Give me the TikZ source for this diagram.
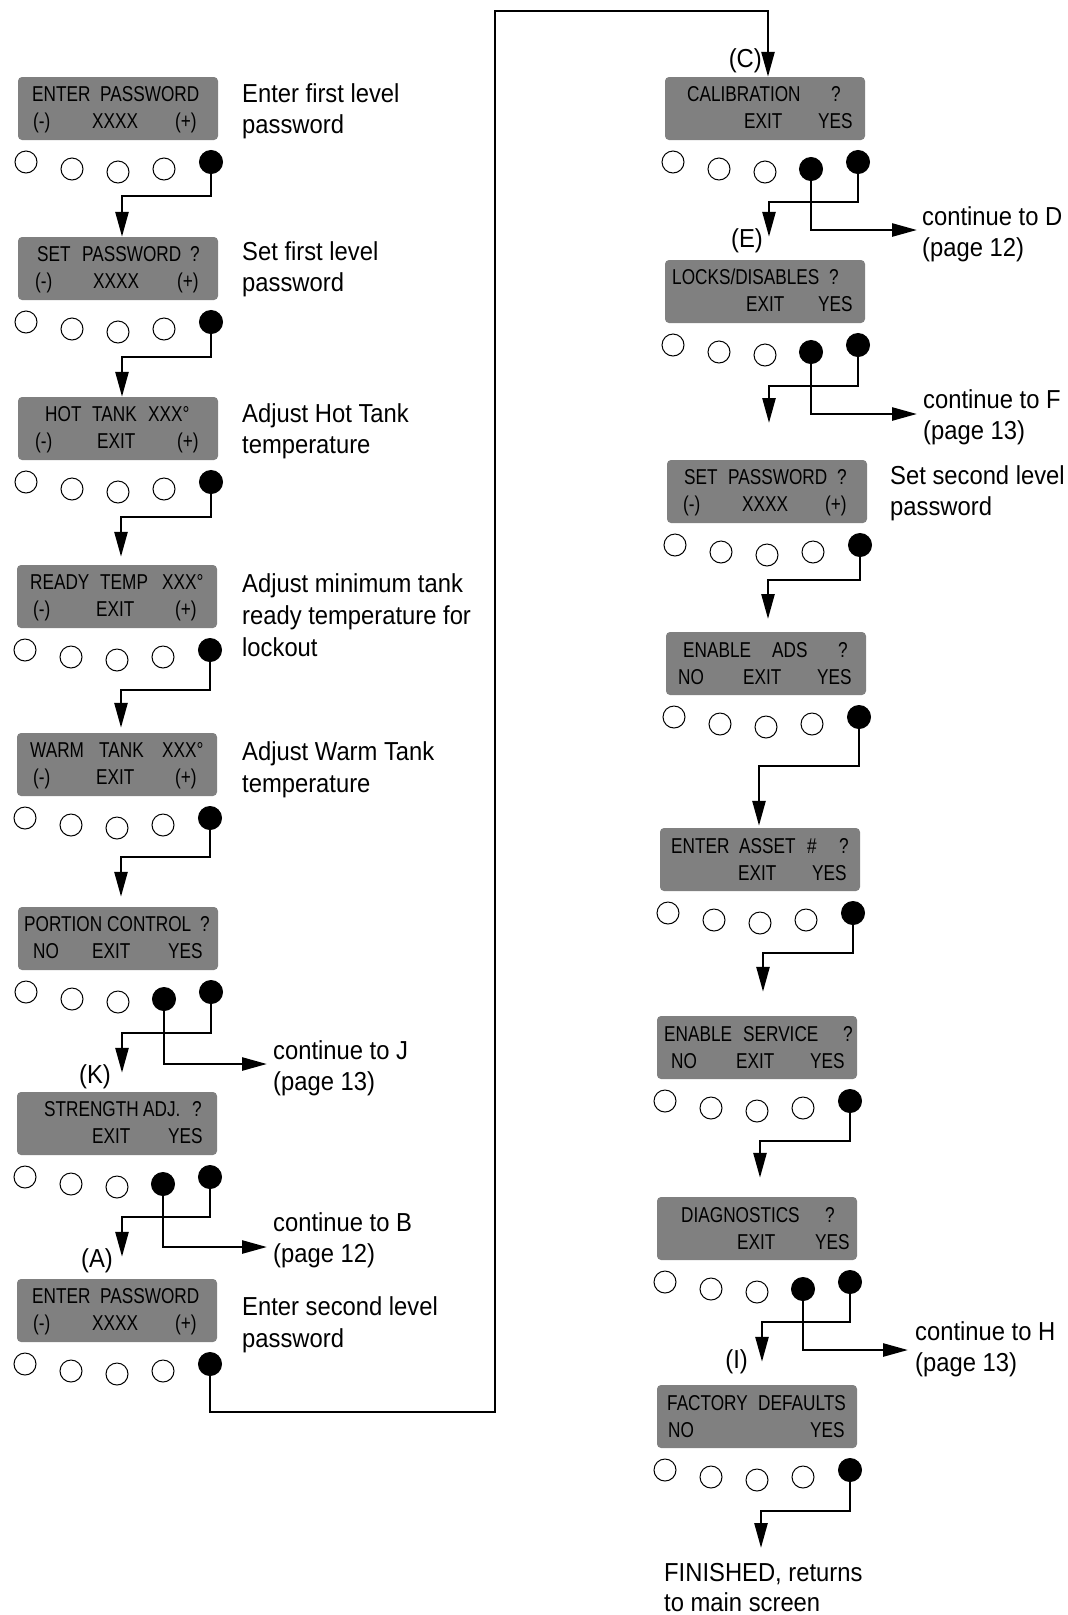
\documentclass[tikz,border=0pt]{standalone}
\usepackage{fontspec}
\setmainfont{Liberation Sans}
\newfontfamily\bfnt[FakeStretch=0.8]{Liberation Sans}
\newfontfamily\dfnt[FakeStretch=0.915]{Liberation Sans}
\usetikzlibrary{arrows.meta,calc}
\definecolor{boxgray}{RGB}{128,128,128}
\newcommand\screen[4]{%
  \node[scr] (#1) at (#2+100,#3+31.5) {};
  \node[btn] (#1-1) at (#2+8,#3+85) {};
  \node[btn] (#1-2) at (#2+54,#3+92) {};
  \node[btn] (#1-3) at (#2+100,#3+95) {};
  \node[#4] (#1-4) at (#2+146,#3+92) {};
  \node[btnf] (#1-5) at (#2+193,#3+85) {};}
\newcommand\bw[4]{\node[bt] (#1) at (#2,#3) {#4};}
\newcommand\dl[4]{\node[desc] (#1) at (#2,#3) {#4};}
\begin{document}
\begin{tikzpicture}[x=1pt,y=-1pt,
 scr/.style={rectangle, rounded corners=4pt, fill=boxgray, minimum width=200pt, minimum height=63pt, inner sep=0pt},
 btn/.style={circle, draw, line width=1pt, minimum size=22pt, inner sep=0pt, fill=white},
 btnf/.style={circle, draw, line width=1pt, fill=black, minimum size=23pt, inner sep=0pt},
 flow/.style={line width=2.6pt, -{Triangle[length=25pt,width=13pt]}},
 bt/.style={anchor=base west, inner sep=0pt, text=black, font=\bfnt\fontsize{21.5}{24}\selectfont},
 desc/.style={anchor=base west, inner sep=0pt, font=\dfnt\fontsize{26}{31}\selectfont},
 lab/.style={anchor=base east, inner sep=0pt, font=\dfnt\fontsize{26}{31}\selectfont},
]
\useasboundingbox (0,0) rectangle (1068,1615);
% ---------- screens ----------
\screen{L1}{18}{77}{btn}
\screen{L2}{18}{237}{btn}
\screen{L3}{18}{397}{btn}
\screen{L4}{17}{565}{btn}
\screen{L5}{17}{733}{btn}
\screen{L6}{18}{907}{btnf}
\screen{L7}{17}{1092}{btnf}
\screen{L8}{17}{1279}{btn}
\screen{C}{665}{77}{btnf}
\screen{E}{665}{260}{btnf}
\screen{SP}{667}{460}{btn}
\screen{AD}{666}{632}{btn}
\screen{AS}{660}{828}{btn}
\screen{SV}{657}{1016}{btn}
\screen{DG}{657}{1197}{btnf}
\screen{FD}{657}{1385}{btn}
% ---------- screen texts ----------
\bw{L1a}{32}{101}{ENTER}\bw{L1b}{100}{101}{PASSWORD}
\bw{L1c}{33}{128}{(-)}\bw{L1d}{92}{128}{XXXX}\bw{L1e}{175}{128}{(+)}
\bw{L2a}{37}{261}{SET}\bw{L2b}{82}{261}{PASSWORD}\bw{L2f}{190}{261}{?}
\bw{L2c}{35}{288}{(-)}\bw{L2d}{93}{288}{XXXX}\bw{L2e}{177}{288}{(+)}
\bw{L3a}{45}{421}{HOT}\bw{L3b}{92}{421}{TANK}\bw{L3f}{148}{421}{XXX°}
\bw{L3c}{35}{448}{(-)}\bw{L3d}{97}{448}{EXIT}\bw{L3e}{177}{448}{(+)}
\bw{L4a}{30}{589}{READY}\bw{L4b}{100}{589}{TEMP}\bw{L4f}{162}{589}{XXX°}
\bw{L4c}{33}{616}{(-)}\bw{L4d}{96}{616}{EXIT}\bw{L4e}{175}{616}{(+)}
\bw{L5a}{30}{757}{WARM}\bw{L5b}{99}{757}{TANK}\bw{L5f}{162}{757}{XXX°}
\bw{L5c}{33}{784}{(-)}\bw{L5d}{96}{784}{EXIT}\bw{L5e}{175}{784}{(+)}
\bw{L6a}{24}{931}{PORTION}\bw{L6b}{107}{931}{CONTROL}\bw{L6f}{200}{931}{?}
\bw{L6c}{33}{958}{NO}\bw{L6d}{92}{958}{EXIT}\bw{L6e}{168}{958}{YES}
\bw{L7a}{44}{1116}{STRENGTH}\bw{L7b}{143}{1116}{ADJ.}\bw{L7f}{192}{1116}{?}
\bw{L7d}{92}{1143}{EXIT}\bw{L7e}{168}{1143}{YES}
\bw{L8a}{32}{1303}{ENTER}\bw{L8b}{100}{1303}{PASSWORD}
\bw{L8c}{33}{1330}{(-)}\bw{L8d}{92}{1330}{XXXX}\bw{L8e}{175}{1330}{(+)}
\bw{Ca}{687}{101}{CALIBRATION}\bw{Cf}{831}{101}{?}
\bw{Cd}{744}{128}{EXIT}\bw{Ce}{818}{128}{YES}
\bw{Ea}{672}{284}{LOCKS/DISABLES}\bw{Ef}{829}{284}{?}
\bw{Ed}{746}{311}{EXIT}\bw{Ee}{818}{311}{YES}
\bw{SPa}{684}{484}{SET}\bw{SPb}{728}{484}{PASSWORD}\bw{SPf}{837}{484}{?}
\bw{SPc}{683}{511}{(-)}\bw{SPd}{742}{511}{XXXX}\bw{SPe}{825}{511}{(+)}
\bw{ADa}{683}{657}{ENABLE}\bw{ADb}{772}{657}{ADS}\bw{ADf}{838}{657}{?}
\bw{ADc}{678}{684}{NO}\bw{ADd}{743}{684}{EXIT}\bw{ADe}{817}{684}{YES}
\bw{ASa}{671}{853}{ENTER}\bw{ASb}{739}{853}{ASSET}\bw{ASg}{807}{853}{\#}\bw{ASf}{839}{853}{?}
\bw{ASd}{738}{880}{EXIT}\bw{ASe}{812}{880}{YES}
\bw{SVa}{664}{1041}{ENABLE}\bw{SVb}{743}{1041}{SERVICE}\bw{SVf}{843}{1041}{?}
\bw{SVc}{671}{1068}{NO}\bw{SVd}{736}{1068}{EXIT}\bw{SVe}{810}{1068}{YES}
\bw{DGa}{681}{1222}{DIAGNOSTICS}\bw{DGf}{825}{1222}{?}
\bw{DGd}{737}{1249}{EXIT}\bw{DGe}{815}{1249}{YES}
\bw{FDa}{667}{1410}{FACTORY}\bw{FDb}{758}{1410}{DEFAULTS}
\bw{FDc}{668}{1437}{NO}\bw{FDe}{810}{1437}{YES}
% ---------- descriptions ----------
\dl{d1a}{242}{102}{Enter first level}\dl{d1b}{242}{133}{password}
\dl{d2a}{242}{260}{Set first level}\dl{d2b}{242}{291}{password}
\dl{d3a}{242}{422}{Adjust Hot Tank}\dl{d3b}{242}{453}{temperature}
\dl{d4a}{242}{592}{Adjust minimum tank}\dl{d4b}{242}{624}{ready temperature for}\dl{d4c}{242}{656}{lockout}
\dl{d5a}{242}{760}{Adjust Warm Tank}\dl{d5b}{242}{792}{temperature}
\dl{d8a}{242}{1315}{Enter second level}\dl{d8b}{242}{1347}{password}
\dl{dsa}{890}{484}{Set second level}\dl{dsb}{890}{515}{password}
\dl{fin1}{664}{1581}{FINISHED, returns}\dl{fin2}{664}{1611}{to main screen}
% continue texts
\dl{tJa}{273}{1059}{continue to J}\dl{tJb}{273}{1090}{(page 13)}
\dl{tBa}{273}{1231}{continue to B}\dl{tBb}{273}{1262}{(page 12)}
\dl{tDa}{922}{225}{continue to D}\dl{tDb}{922}{256}{(page 12)}
\dl{tFa}{923}{408}{continue to F}\dl{tFb}{923}{439}{(page 13)}
\dl{tHa}{915}{1340}{continue to H}\dl{tHb}{915}{1371}{(page 13)}
% letter labels
\node[lab] (lC) at (762,67) {(C)};
\node[lab] (lE) at (763,247) {(E)};
\node[lab] (lK) at (111,1083) {(K)};
\node[lab] (lA) at (113,1267) {(A)};
\node[lab] (lI) at (748,1368) {(I)};
% ---------- connectors ----------
\coordinate (e1) at (122,196); \draw[flow] (L1-5.south) |- (e1) -- (e1 |- L2.north);
\coordinate (e2) at (122,357); \draw[flow] (L2-5.south) |- (e2) -- (e2 |- L3.north);
\coordinate (e3) at (121,517); \draw[flow] (L3-5.south) |- (e3) -- ($(e3 |- L4.north)+(0,-8)$);
\coordinate (e4) at (121,690); \draw[flow] (L4-5.south) |- (e4) -- ($(e4 |- L5.north)+(0,-5)$);
\coordinate (e5) at (121,857); \draw[flow] (L5-5.south) |- (e5) -- ($(e5 |- L6.north)+(0,-10)$);
\coordinate (e6) at (122,1033); \draw[flow] (L6-5.south) |- (e6) -- ($(e6 |- L7.north)+(0,-19)$);
\coordinate (e7) at (122,1217); \draw[flow] (L7-5.south) |- (e7) -- ($(e7 |- L8.north)+(0,-22)$);
\coordinate (u1) at (495,1412); \coordinate (u2) at (495,11); \coordinate (cin) at (768,11);
\draw[flow] (L8-5.south) |- (u1) -- (u2) -- (cin) -- (cin |- C.north);
\coordinate (f1) at (769,202); \draw[flow] (C-5.south) |- (f1) -- ($(f1 |- E.north)+(0,-23)$);
\coordinate (f2) at (769,386); \coordinate (f2t) at (769,423); \draw[flow] (E-5.south) |- (f2) -- (f2t);
\coordinate (f3) at (768,580); \coordinate (f3t) at (768,619); \draw[flow] (SP-5.south) |- (f3) -- (f3t);
\coordinate (f4) at (759,766); \draw[flow] (AD-5.south) |- (f4) -- ($(f4 |- AS.north)+(0,-2)$);
\coordinate (f5) at (763,953); \draw[flow] (AS-5.south) |- (f5) -- ($(f5 |- SV.north)+(0,-24)$);
\coordinate (f6) at (760,1141); \draw[flow] (SV-5.south) |- (f6) -- ($(f6 |- DG.north)+(0,-19)$);
\coordinate (f7) at (762,1322); \draw[flow] (DG-5.south) |- (f7) -- ($(f7 |- FD.north)+(0,-23)$);
\coordinate (f8) at (761,1511); \coordinate (f8t) at (761,1548); \draw[flow] (FD-5.south) |- (f8) -- (f8t);
% branches
\coordinate (bJ) at (267,1064); \draw[flow] (L6-4.south) |- (bJ);
\coordinate (bB) at (267,1247); \draw[flow] (L7-4.south) |- (bB);
\coordinate (bD) at (917,230); \draw[flow] (C-4.south) |- (bD);
\coordinate (bF) at (917,414); \draw[flow] (E-4.south) |- (bF);
\coordinate (bH) at (908,1350); \draw[flow] (DG-4.south) |- (bH);
\end{tikzpicture}
\end{document}
